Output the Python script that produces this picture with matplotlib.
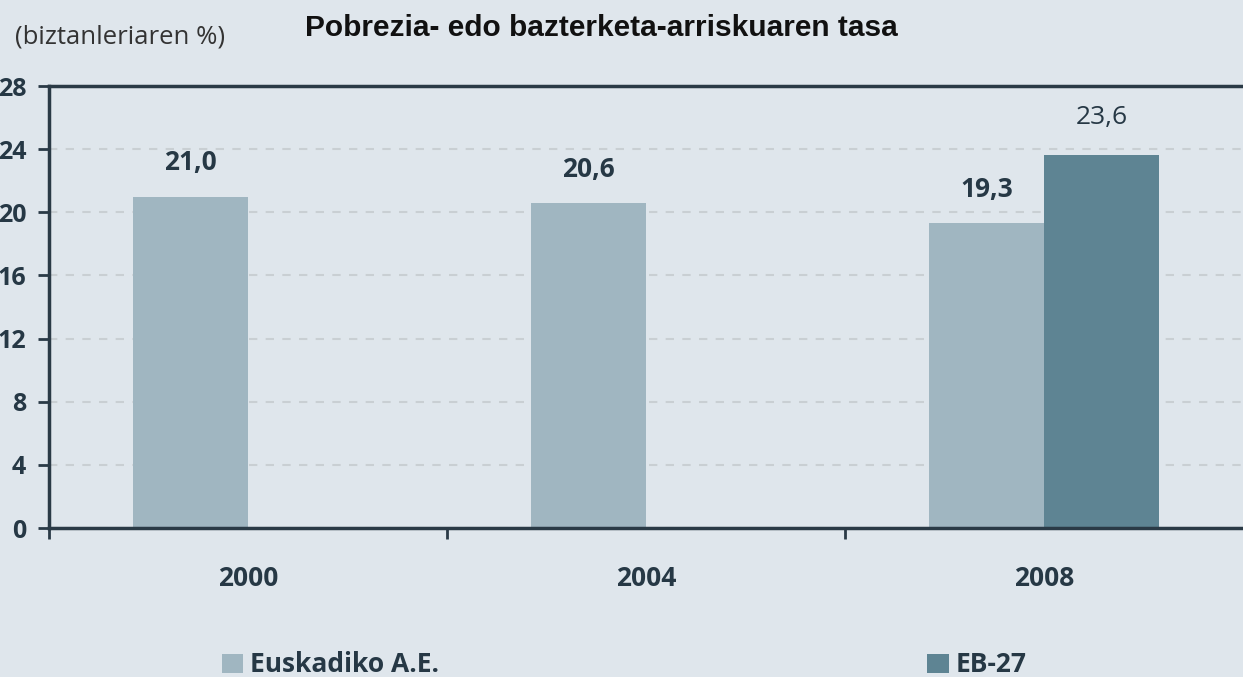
import matplotlib.pyplot as plt
import numpy as np

# datos
years = ['2000', '2004', '2008']
euskadi = [21.0, 20.6, 19.3]
eb27 = [np.nan, np.nan, 23.6]
series_names = ['Euskadiko A.E.', 'EB-27']
yticks = [0, 4, 8, 12, 16, 20, 24, 28]

# colores
bg = '#dfe6ec'
c_light = '#a0b6c1'
c_dark = '#5e8493'
c_text = '#263845'
c_axis = '#2a3a46'

plt.rcParams['font.family'] = ['Open Sans', 'DejaVu Sans']

fig = plt.figure(figsize=(12.43, 6.77), dpi=100, facecolor=bg)
ax = fig.add_axes([49 / 1243, 1 - 528 / 677, 1 - 49 / 1243, (528 - 86) / 677])
ax.set_facecolor(bg)

x = np.arange(len(years))
w = 0.289

b1 = ax.bar(x - w / 2, euskadi, w, color=c_light, label=series_names[0], zorder=2)
b2 = ax.bar(x + w / 2, eb27, w, color=c_dark, label=series_names[1], zorder=2)

# etiquetas de valores
for xi, v in zip(x - w / 2, euskadi):
    ax.annotate(f'{v:.1f}'.replace('.', ','), (xi, v), xytext=(0, 14.5), textcoords='offset points',
                ha='center', va='bottom', fontsize=19, fontweight='bold', color=c_text)
for xi, v in zip(x + w / 2, eb27):
    if np.isnan(v):
        continue
    ax.annotate(f'{v:.1f}'.replace('.', ','), (xi, v), xytext=(0, 18), textcoords='offset points',
                ha='center', va='bottom', fontsize=19, color=c_text)

ax.set_xlim(-0.5, 2.5)
ax.set_ylim(0, 28)
ax.set_yticks(yticks)
ax.set_xticks(x)
ax.set_xticklabels(years)
ax.set_xticks([-0.5, 0.5, 1.5], minor=True)

ax.tick_params(axis='y', length=8, width=2, color=c_axis, pad=8.5, labelsize=18, labelcolor=c_text)
ax.tick_params(axis='x', which='major', length=0, pad=27, labelsize=19, labelcolor=c_text)
ax.tick_params(axis='x', which='minor', length=8, width=2, color=c_axis)
for lab in ax.get_yticklabels() + ax.get_xticklabels():
    lab.set_fontweight('bold')

ax.grid(axis='y', linestyle=(0, (4, 4)), color='#c9cfd3', linewidth=1.5, zorder=1)
ax.set_axisbelow(True)

for s in ['left', 'top', 'bottom']:
    ax.spines[s].set_color(c_axis)
    ax.spines[s].set_linewidth(2.5)
ax.spines['right'].set_visible(False)

fig.text(601 / 1243, 1 - 36 / 677, 'Pobrezia- edo bazterketa-arriskuaren tasa', ha='center', va='baseline',
         fontsize=21.5, fontweight='bold', family='Liberation Sans', color='#111111')
fig.text(15 / 1243, 1 - 44 / 677, '(biztanleriaren %)', ha='left', va='baseline',
         fontsize=18.5, color='#333333')

leg = fig.legend(loc='center left', bbox_to_anchor=(222 / 1243, 1 - 665 / 677), ncol=2, frameon=False,
                 borderpad=0, borderaxespad=0, handlelength=0.8, handleheight=0.76, handletextpad=0.27,
                 columnspacing=18.5, prop={'size': 19, 'weight': 'bold'})
for t in leg.get_texts():
    t.set_color(c_text)

fig.savefig('out.png', dpi=100, facecolor=bg)
